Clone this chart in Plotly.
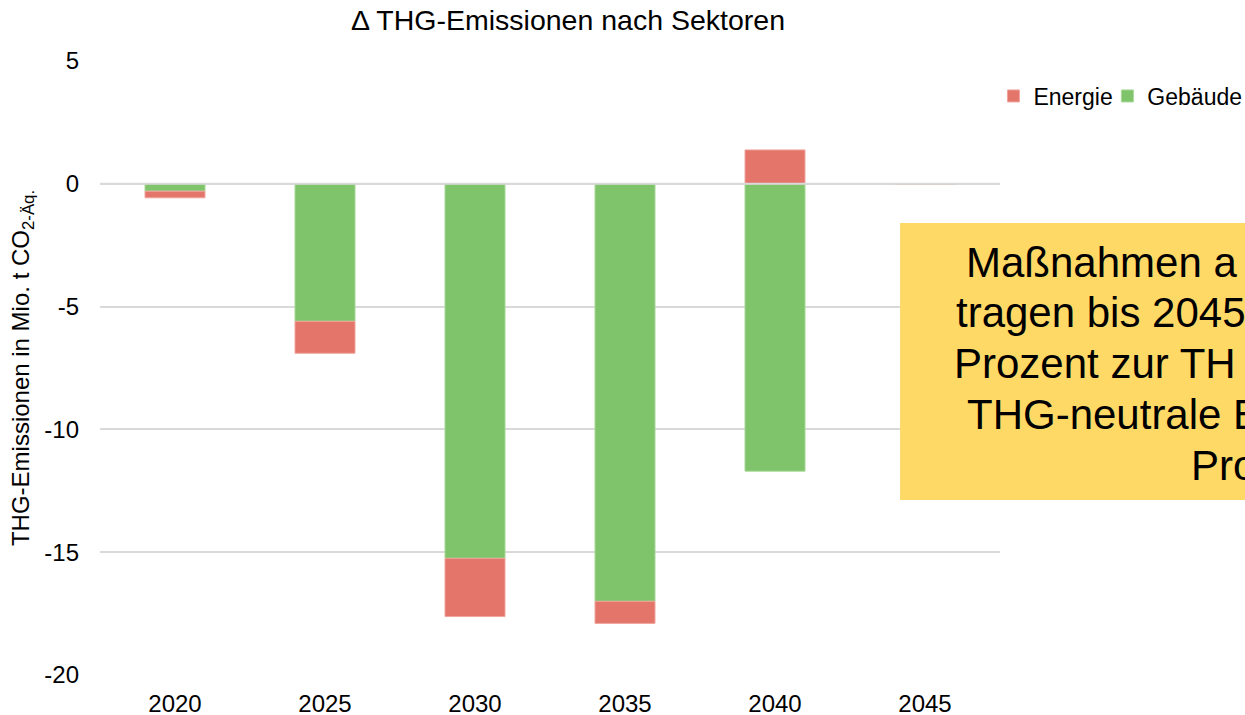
import plotly.graph_objects as go

years = ["2020", "2025", "2030", "2035", "2040", "2045"]
gebaeude = [-0.3, -5.6, -15.25, -17.0, -11.7, 0]
energie = [-0.27, -1.3, -2.37, -0.9, 1.38, 0]

y_ticks = [5, 0, -5, -10, -15, -20]
y_labels = ["5", "0", "-5", "-10", "-15", "-20"]

box_lines = ["Maßnahmen a", "tragen bis 2045", "Prozent zur TH", "THG-neutrale E", "Pro"]

FONT = "Liberation Sans, Arial, sans-serif"
GREEN = "#7FC36B"
RED = "#E3756B"

fig = go.Figure()
fig.add_trace(go.Bar(x=years, y=gebaeude, name="Gebäude", legend="legend2",
                     marker=dict(color=GREEN, line=dict(color="#A6D896", width=1))))
fig.add_trace(go.Bar(x=years, y=energie, name="Energie", legend="legend",
                     marker=dict(color=RED, line=dict(color="#EFA59D", width=1))))

# yellow text box, runs off the right edge
fig.add_shape(type="rect", xref="paper", yref="paper", x0=0.889, x1=1.4, y0=0.285, y1=0.736,
              fillcolor="#FFD966", line=dict(width=0), layer="above")

# left start (px) and vertical centre (px) of each visible line
line_x = [964, 954, 952, 965, 1189]
line_y = [262, 312, 363, 414, 465]
for txt, px, py in zip(box_lines, line_x, line_y):
    fig.add_annotation(text=txt, xref="paper", yref="paper",
                       x=(px - 100) / 900, y=(675 - py) / 614,
                       xanchor="left", yanchor="middle", showarrow=False,
                       font=dict(family=FONT, size=42, color="black"))

# zero line drawn above the bars
fig.add_shape(type="line", xref="paper", yref="y", x0=0, x1=1, y0=0, y1=0,
              line=dict(color="#D9D9D9", width=2), layer="above")

leg = dict(orientation="h", y=0.943, xanchor="left", yanchor="middle",
           font=dict(size=23), bgcolor="rgba(0,0,0,0)")

fig.update_layout(
    width=1245, height=715,
    barmode="relative", bargap=0.6,
    paper_bgcolor="white", plot_bgcolor="white",
    margin=dict(l=100, r=245, t=61, b=40, autoexpand=False),
    font=dict(family=FONT, size=24, color="black"),
    title=dict(text="Δ THG-Emissionen nach Sektoren", x=568 / 1245, xanchor="center",
               y=1 - 20 / 715, yanchor="middle", font=dict(size=28.5, color="black")),
    legend=dict(leg, x=0.9927),
    legend2=dict(leg, x=1.1193),
    showlegend=True,
)
fig.update_xaxes(showgrid=False, showline=False, ticks="", ticklabelstandoff=12,
                 tickfont=dict(size=24))
fig.update_yaxes(range=[-20, 5], tickvals=y_ticks, ticktext=y_labels,
                 showgrid=True, gridcolor="#D9D9D9",
                 gridwidth=1.5, zeroline=False, showline=False, ticks="",
                 ticklabelstandoff=20, tickfont=dict(size=24),
                 title=dict(text="THG-Emissionen in Mio. t CO<sub>2-Äq.</sub>",
                            font=dict(size=24), standoff=7))

fig.write_html("out.html", config={"displayModeBar": False},
               post_script="document.body.style.margin='0';document.body.style.overflow='hidden';")
